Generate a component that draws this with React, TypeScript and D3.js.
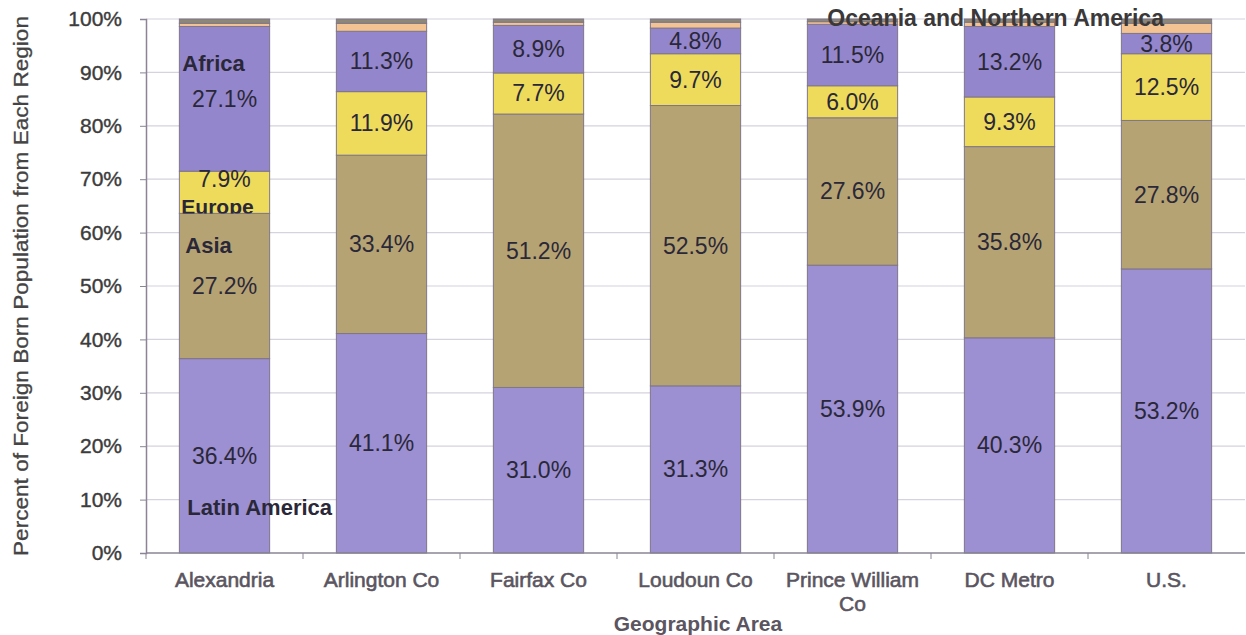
import React, { useEffect, useRef } from "react";
import * as d3 from "d3";

const areas = ["Alexandria", "Arlington Co", "Fairfax Co", "Loudoun Co", "Prince William Co", "DC Metro", "U.S."];
const regions = ["Latin America", "Asia", "Europe", "Africa", "Oceania and Northern America", "Other"];

// percent of foreign born, per region, one value per area
const latinAmerica = [36.4, 41.1, 31.0, 31.3, 53.9, 40.3, 53.2];
const asia = [27.2, 33.4, 51.2, 52.5, 27.6, 35.8, 27.8];
const europe = [7.9, 11.9, 7.7, 9.7, 6.0, 9.3, 12.5];
const africa = [27.1, 11.3, 8.9, 4.8, 11.5, 13.2, 3.8];
const oceaniaNA = [0.6, 1.5, 0.6, 1.1, 0.5, 0.8, 1.9];
const other = [0.8, 0.8, 0.6, 0.6, 0.5, 0.6, 0.8];

const yTicks = [0, 10, 20, 30, 40, 50, 60, 70, 80, 90, 100];

const colors = ["#9c8fd2", "#b6a373", "#eedb5c", "#9486cc", "#f3c394", "#8d8776"];

const App = () => {
  const svgRef = useRef(null);

  useEffect(() => {
    const width = 1246;
    const height = 635;
    const margin = { top: 19, right: 1, bottom: 82, left: 146 };

    const svg = d3.select(svgRef.current);
    svg.selectAll("*").remove();
    svg.attr("width", width).attr("height", height).style("display", "block");

    const x = d3
      .scaleBand()
      .domain(areas)
      .range([margin.left, width - margin.right])
      .paddingInner(0.425)
      .paddingOuter(0.2125);

    const y = d3
      .scaleLinear()
      .domain([0, 100])
      .range([height - margin.bottom, margin.top]);

    const font = "Arial, 'Liberation Sans', sans-serif";

    // gridlines
    svg
      .append("g")
      .selectAll("line")
      .data(yTicks.slice(1))
      .join("line")
      .attr("x1", margin.left)
      .attr("x2", width - margin.right)
      .attr("y1", (d) => y(d))
      .attr("y2", (d) => y(d))
      .attr("stroke", "#d6d2df")
      .attr("stroke-width", 1.2);

    const rows = areas.map((a, i) => ({
      area: a,
      "Latin America": latinAmerica[i],
      Asia: asia[i],
      Europe: europe[i],
      Africa: africa[i],
      "Oceania and Northern America": oceaniaNA[i],
      Other: other[i],
    }));

    const series = d3.stack().keys(regions)(rows);

    const groups = svg
      .append("g")
      .selectAll("g")
      .data(series)
      .join("g")
      .attr("fill", (d, i) => colors[i]);

    groups
      .selectAll("rect")
      .data((d) => d)
      .join("rect")
      .attr("x", (d) => x(d.data.area))
      .attr("y", (d) => y(d[1]))
      .attr("width", x.bandwidth())
      .attr("height", (d) => y(d[0]) - y(d[1]))
      .attr("stroke", "#7f7688")
      .attr("stroke-width", 1);

    // value labels, centered in the four main segments
    const labelShift = { "Europe|Alexandria": -13 };
    series.slice(0, 4).forEach((s) => {
      svg
        .append("g")
        .selectAll("text")
        .data(s)
        .join("text")
        .attr("x", (d) => x(d.data.area) + x.bandwidth() / 2)
        .attr("y", (d) => y((d[0] + d[1]) / 2) + 8 + (labelShift[s.key + "|" + d.data.area] || 0))
        .attr("text-anchor", "middle")
        .style("font-family", font)
        .style("font-size", "23px")
        .attr("fill", "#2a2838")
        .text((d) => (d[1] - d[0]).toFixed(1) + "%");
    });

    // region name labels inside the first bar
    const first = x(areas[0]);
    const regionLabels = [
      { text: "Africa", x: first + 3, y: y(90.3) },
      { text: "Europe", x: first + 2, y: y(63.5) },
      { text: "Asia", x: first + 6, y: y(56.2) },
      { text: "Latin America", x: first + 8, y: y(7.1) },
    ];
    const clip = svg.append("defs").append("clipPath").attr("id", "europeClip");
    clip
      .append("rect")
      .attr("x", x(areas[0]))
      .attr("y", y(71.5))
      .attr("width", x.bandwidth())
      .attr("height", y(63.6) - y(71.5));

    svg
      .append("g")
      .selectAll("text")
      .data(regionLabels)
      .join("text")
      .attr("x", (d) => d.x)
      .attr("y", (d) => d.y)
      .attr("clip-path", (d) => (d.text === "Europe" ? "url(#europeClip)" : null))
      .style("font-family", font)
      .style("font-size", (d) => (d.text === "Europe" ? "21px" : "22px"))
      .style("font-weight", "bold")
      .attr("fill", "#2a2838")
      .text((d) => d.text);

    svg
      .append("text")
      .attr("x", x(areas[4]) + 20)
      .attr("y", margin.top + 7)
      .style("font-family", font)
      .style("font-size", "23px")
      .style("font-weight", "bold")
      .attr("fill", "#3a3838")
      .text("Oceania and Northern America");

    // y axis
    const yAxis = svg
      .append("g")
      .attr("transform", `translate(${margin.left},0)`)
      .call(d3.axisLeft(y).tickValues(yTicks).tickFormat((d) => d + "%").tickSize(6).tickPadding(18));
    yAxis.select(".domain").attr("stroke", "#8a8494").attr("stroke-width", 1.5);
    yAxis.selectAll(".tick line").attr("stroke", "#8a8494");
    yAxis
      .selectAll(".tick text")
      .style("font-family", font)
      .style("font-size", "21px")
      .attr("fill", "#3c3c3c")
      .attr("stroke", "#3c3c3c")
      .attr("stroke-width", 0.4);

    // x axis
    const xAxis = svg
      .append("g")
      .attr("transform", `translate(0,${height - margin.bottom})`);
    xAxis
      .append("line")
      .attr("x1", margin.left)
      .attr("x2", width - margin.right)
      .attr("stroke", "#8a8494")
      .attr("stroke-width", 1.5);
    const step = x.step();
    xAxis
      .selectAll(".tk")
      .data(areas)
      .join("line")
      .attr("class", "tk")
      .attr("x1", (d, i) => margin.left + step * i)
      .attr("x2", (d, i) => margin.left + step * i)
      .attr("y2", 6)
      .attr("stroke", "#8a8494");

    xAxis
      .selectAll(".lbl")
      .data(areas)
      .join("text")
      .attr("class", "lbl")
      .attr("text-anchor", "middle")
      .attr("transform", (d) => `translate(${x(d) + x.bandwidth() / 2},34)`)
      .style("font-family", font)
      .style("font-size", "21px")
      .attr("fill", "#5a5560")
      .attr("stroke", "#5a5560")
      .attr("stroke-width", 0.6)
      .each(function (d) {
        const parts = d === "Prince William Co" ? ["Prince William", "Co"] : [d];
        d3.select(this)
          .selectAll("tspan")
          .data(parts)
          .join("tspan")
          .attr("x", 0)
          .attr("dy", (p, i) => (i === 0 ? 0 : 24))
          .text((p) => p);
      });

    svg
      .append("text")
      .attr("x", 698)
      .attr("y", 631)
      .attr("text-anchor", "middle")
      .style("font-family", font)
      .style("font-size", "21px")
      .style("font-weight", "bold")
      .attr("fill", "#5a5560")
      .text("Geographic Area");

    svg
      .append("text")
      .attr("transform", `translate(28,${286}) rotate(-90)`)
      .attr("text-anchor", "middle")
      .style("font-family", font)
      .style("font-size", "21px")
      .attr("textLength", 540)
      .attr("lengthAdjust", "spacingAndGlyphs")
      .attr("fill", "#444")
      .attr("stroke", "#444")
      .attr("stroke-width", 0.3)
      .text("Percent of Foreign Born Population from Each Region");
  }, []);

  return (
    <div>
      <style>{`body{margin:0;background:#fff}`}</style>
      <svg ref={svgRef}></svg>
    </div>
  );
};

export default App;
